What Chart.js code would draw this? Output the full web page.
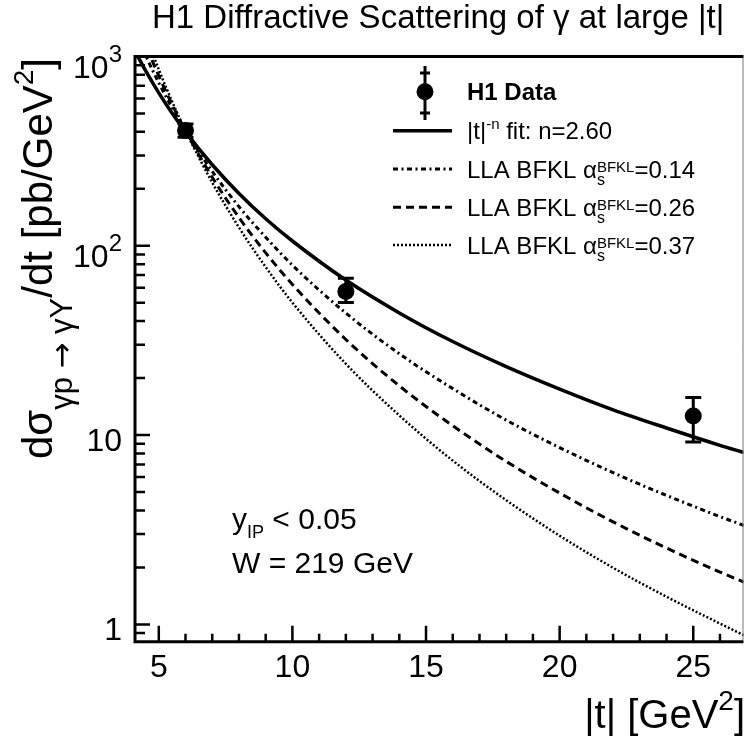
<!DOCTYPE html>
<html><head><meta charset="utf-8">
<script src="https://cdn.jsdelivr.net/npm/chart.js@4"></script>
<style>html,body{margin:0;padding:0;background:#fff}#wrap{width:752px;height:744px}</style>
</head><body><div id="wrap"><canvas id="c" width="752" height="744"></canvas></div>
<script>
// ---- data ----
const tData   = [6, 12, 25];
const sigData = [406, 57.4, 12.6];
const sigHigh = [440, 67.4, 15.8];
const sigLow  = [374, 50.2, 9.2];

const tCurve  = [4.2, 4.5, 5, 5.5, 6, 7, 8, 9, 10, 12, 14, 16, 18, 20, 22, 24, 26, 26.9];
const fitCurve = [1010, 844, 642, 501, 400, 268, 189, 139, 106, 65.9, 44.2, 31.2, 23.0, 17.5, 13.6, 10.9, 8.83, 8.08];
const bfkl014  = [1268, 1017, 726, 535, 405, 247, 161, 111, 79.0, 44.1, 26.9, 17.6, 12.0, 8.59, 6.33, 4.80, 3.71, 3.33];
const bfkl026  = [1493, 1161, 790, 557, 405, 230, 141, 91.8, 62.5, 32.0, 18.2, 11.2, 7.26, 4.94, 3.48, 2.53, 1.89, 1.67];
const bfkl037  = [1741, 1314, 854, 578, 405, 216, 125, 77.2, 50.1, 23.8, 12.7, 7.33, 4.53, 2.94, 1.99, 1.40, 1.01, 0.876];

const xMajorTicks = [5, 10, 15, 20, 25];
const xTickLabels = ['5', '10', '15', '20', '25'];
const yDecades = [1, 10, 100, 1000];
const yTickLabels = [['1', ''], ['10', ''], ['10', '2'], ['10', '3']];

const titleText = 'H1 Diffractive Scattering of \u03b3 at large |t|';
const legendAlphas = ['0.14', '0.26', '0.37'];

// ---- helpers ----
const FONT = '"Liberation Sans", Arial, Helvetica, sans-serif';
function font(s, b, f) { return (b ? 'bold ' : '') + s + 'px ' + (f || FONT); }
function runWidth(ctx, list) {
  let w = 0;
  for (const r of list) {
    if (r.stack) {
      let m = 0;
      for (const q of r.stack) { ctx.font = font(q.s, q.b, q.f); m = Math.max(m, ctx.measureText(q.t).width); }
      w += m;
    } else { ctx.font = font(r.s, r.b, r.f); w += ctx.measureText(r.t).width; }
  }
  return w;
}
function drawRuns(ctx, x, y, list) {
  let cx = x;
  ctx.textAlign = 'left'; ctx.textBaseline = 'alphabetic';
  for (const r of list) {
    if (r.stack) {
      let m = 0;
      for (const q of r.stack) {
        ctx.font = font(q.s, q.b, q.f);
        ctx.fillText(q.t, cx, y + (q.dy || 0));
        m = Math.max(m, ctx.measureText(q.t).width);
      }
      cx += m;
    } else {
      ctx.font = font(r.s, r.b, r.f);
      ctx.fillText(r.t, cx, y + (r.dy || 0));
      cx += ctx.measureText(r.t).width;
    }
  }
  return cx - x;
}
function pts(xs, ys) { return xs.map((x, i) => ({ x: x, y: ys[i] })); }

const DASHDOT = [5, 3.5, 2, 3.5];
const DASH = [8, 5];
const DOT = [2, 2];

const decor = {
  id: 'decor',
  beforeDraw(chart) {
    const ctx = chart.ctx;
    ctx.save(); ctx.fillStyle = '#fff'; ctx.fillRect(0, 0, chart.width, chart.height); ctx.restore();
  },
  afterDatasetsDraw(chart) {
    const ctx = chart.ctx, xs = chart.scales.x, ys = chart.scales.y, a = chart.chartArea;
    ctx.save();
    ctx.fillStyle = '#000'; ctx.strokeStyle = '#000';

    // error bars
    ctx.lineWidth = 3;
    for (let i = 0; i < tData.length; i++) {
      const px = xs.getPixelForValue(tData[i]);
      const yh = ys.getPixelForValue(sigHigh[i]);
      const yl = ys.getPixelForValue(sigLow[i]);
      ctx.beginPath();
      ctx.moveTo(px, yh); ctx.lineTo(px, yl);
      ctx.moveTo(px - 8, yh); ctx.lineTo(px + 8, yh);
      ctx.moveTo(px - 8, yl); ctx.lineTo(px + 8, yl);
      ctx.stroke();
    }

    // frame
    ctx.lineWidth = 3;
    ctx.beginPath();
    ctx.moveTo(a.left, a.top); ctx.lineTo(a.right, a.top);
    ctx.moveTo(a.left, a.top - 1.5); ctx.lineTo(a.left, a.bottom + 1.5);
    ctx.moveTo(a.left - 1.5, a.bottom); ctx.lineTo(a.right, a.bottom);
    ctx.stroke();
    ctx.lineWidth = 1; ctx.strokeStyle = '#777';
    ctx.beginPath(); ctx.moveTo(a.right - 0.5, a.top + 1.5); ctx.lineTo(a.right - 0.5, a.bottom - 1.5); ctx.stroke();
    ctx.strokeStyle = '#000';

    // x ticks (inside)
    ctx.lineWidth = 2.5;
    ctx.beginPath();
    for (let v = Math.ceil(xs.min); v <= xs.max; v++) {
      const px = xs.getPixelForValue(v);
      const len = xMajorTicks.includes(v) ? 16 : 8;
      ctx.moveTo(px, a.bottom); ctx.lineTo(px, a.bottom - len);
    }
    // y ticks (inside)
    for (let d = 0.1; d <= 1000; d *= 10) {
      for (let k = 1; k <= 9; k++) {
        const v = +(k * d).toPrecision(3);
        if (v < ys.min || v > ys.max) continue;
        const py = ys.getPixelForValue(v);
        const len = k === 1 ? 15 : 10;
        ctx.moveTo(a.left, py); ctx.lineTo(a.left + len, py);
      }
    }
    ctx.stroke();

    // x tick labels
    ctx.font = font(32); ctx.textAlign = 'center'; ctx.textBaseline = 'alphabetic';
    xMajorTicks.forEach((v, i) => ctx.fillText(xTickLabels[i], xs.getPixelForValue(v), 677));

    // y tick labels
    yDecades.forEach((v, i) => {
      const py = ys.getPixelForValue(v);
      const [base, sup] = yTickLabels[i];
      const list = [{ t: base, s: 32 }];
      if (sup) list.push({ t: sup, s: 24, dy: -16 });
      const w = runWidth(ctx, list);
      drawRuns(ctx, 122 - w, py + (sup ? 21 : 15.5), list);
    });

    // x title
    const xt = [{ t: '|t| [GeV', s: 40 }, { t: '2', s: 28, dy: -18 }, { t: ']', s: 40 }];
    drawRuns(ctx, 745 - runWidth(ctx, xt), 728, xt);

    // y title (rotated)
    const yt = [{ t: 'd\u03c3', s: 42 }, { t: '\u03b3p ', s: 31, dy: 20 },
                { t: '\u2192', s: 31, dy: 20, f: '"DejaVu Sans", sans-serif' }, { t: ' \u03b3Y', s: 31, dy: 20 },
                { t: '/dt [pb/GeV', s: 42 }, { t: '2', s: 28, dy: -19 }, { t: ']', s: 42 }];
    ctx.save();
    ctx.translate(52, 58); ctx.rotate(-Math.PI / 2);
    drawRuns(ctx, -runWidth(ctx, yt), 0, yt);
    ctx.restore();

    // title
    ctx.font = font(33); ctx.textAlign = 'left';
    ctx.fillText(titleText, 152, 28);

    // annotation
    drawRuns(ctx, 232, 529, [{ t: 'y', s: 30 }, { t: 'IP', s: 18, dy: 9 }, { t: ' < 0.05', s: 30 }]);
    drawRuns(ctx, 232, 573, [{ t: 'W = 219 GeV', s: 30 }]);

    // legend
    const rows = [91.7, 130.7, 169, 207.3, 245];
    const lx0 = 393, lx1 = 452, tx = 467;
    ctx.lineWidth = 3;
    ctx.beginPath();
    ctx.moveTo(425, 66); ctx.lineTo(425, 120);
    ctx.moveTo(420, 73); ctx.lineTo(430, 73);
    ctx.moveTo(420, 113); ctx.lineTo(430, 113);
    ctx.stroke();
    ctx.beginPath(); ctx.arc(425, rows[0], 8.5, 0, Math.PI * 2); ctx.fill();
    drawRuns(ctx, tx, rows[0] + 8.5, [{ t: 'H1 Data', s: 24, b: true }]);
    ctx.lineWidth = 3.5; ctx.setLineDash([]);
    ctx.beginPath(); ctx.moveTo(lx0, rows[1]); ctx.lineTo(lx1, rows[1]); ctx.stroke();
    drawRuns(ctx, tx, rows[1] + 8.5, [{ t: '|t|', s: 24 }, { t: '-n', s: 15, dy: -10 }, { t: ' fit: n=2.60', s: 24 }]);
    const styles = [[DASHDOT, 3], [DASH, 3], [DOT, 2.5]];
    legendAlphas.forEach((al, i) => {
      const y = rows[2 + i];
      ctx.lineWidth = styles[i][1]; ctx.setLineDash(styles[i][0]);
      ctx.beginPath(); ctx.moveTo(lx0, y); ctx.lineTo(lx1, y); ctx.stroke();
      ctx.setLineDash([]);
      drawRuns(ctx, tx, y + 8.5, [{ t: 'LLA BFKL ', s: 24 }, { t: '\u03b1', s: 24 },
        { stack: [{ t: 'BFKL', s: 15, dy: -6 }, { t: 's', s: 16, dy: 7 }] }, { t: '=' + al, s: 24 }]);
    });
    ctx.restore();
  }
};

new Chart(document.getElementById('c'), {
  type: 'line',
  data: {
    datasets: [
      { label: 'fit', data: pts(tCurve, fitCurve), borderColor: '#000', borderWidth: 3.5, pointRadius: 0, cubicInterpolationMode: 'monotone', fill: false },
      { label: 'a014', data: pts(tCurve, bfkl014), borderColor: '#000', borderWidth: 3, borderDash: DASHDOT, pointRadius: 0, cubicInterpolationMode: 'monotone', fill: false },
      { label: 'a026', data: pts(tCurve, bfkl026), borderColor: '#000', borderWidth: 3, borderDash: DASH, pointRadius: 0, cubicInterpolationMode: 'monotone', fill: false },
      { label: 'a037', data: pts(tCurve, bfkl037), borderColor: '#000', borderWidth: 2.5, borderDash: DOT, pointRadius: 0, cubicInterpolationMode: 'monotone', fill: false },
      { label: 'H1', data: pts(tData, sigData), showLine: false, pointRadius: 8.5, pointBackgroundColor: '#000', pointBorderColor: '#000', pointBorderWidth: 0 }
    ]
  },
  options: {
    responsive: false, animation: false, devicePixelRatio: 1,
    layout: { padding: { left: 135, right: 2, top: 56.5, bottom: 102.3 } },
    plugins: { legend: { display: false }, tooltip: { enabled: false }, title: { display: false } },
    scales: {
      x: { type: 'linear', min: 4.11, max: 26.88, display: false },
      y: { type: 'logarithmic', min: 0.81, max: 1000, display: false }
    }
  },
  plugins: [decor]
});
</script>
</body></html>
